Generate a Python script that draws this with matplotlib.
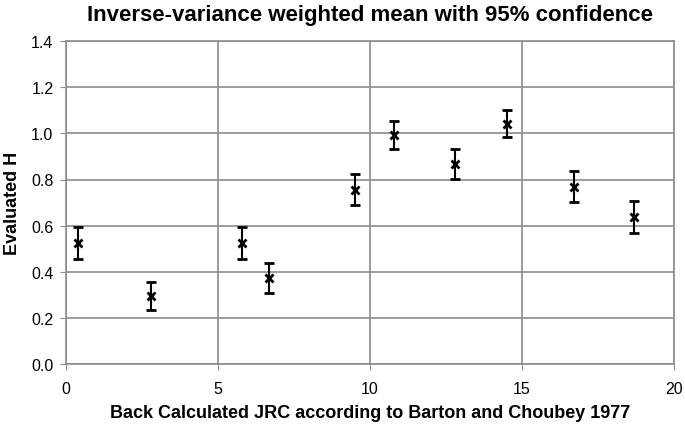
import matplotlib
matplotlib.use('Agg')
import matplotlib.pyplot as plt

plt.rcParams['font.family'] = ['Liberation Sans', 'DejaVu Sans']

jrc = [0.40, 2.81, 5.80, 6.69, 9.51, 10.80, 12.80, 14.50, 16.71, 18.69]
h_mean = [0.525, 0.297, 0.525, 0.374, 0.755, 0.993, 0.868, 1.042, 0.769, 0.639]
h_err = [0.068, 0.060, 0.068, 0.064, 0.067, 0.062, 0.065, 0.060, 0.068, 0.069]

fig = plt.figure(figsize=(6.85, 4.27), dpi=100)
ax = fig.add_axes([66/685, (427-365.3)/427, (674-66)/685, (365.3-41.9)/427])

ax.errorbar(jrc, h_mean, yerr=h_err, fmt='x', color='black', ecolor='black',
            markersize=6, markeredgewidth=2, elinewidth=1.5, capsize=3.8, capthick=1.5)

ax.set_xlim(0, 20)
ax.set_ylim(0, 1.4)
ax.set_xticks([0, 5, 10, 15, 20])
ax.set_yticks([0.0, 0.2, 0.4, 0.6, 0.8, 1.0, 1.2, 1.4])
ax.set_yticklabels(['%.1f' % v for v in ax.get_yticks()])
ax.grid(True, color='#8c8c8c', linewidth=1.2)
ax.set_axisbelow(True)
for s in ax.spines.values():
    s.set_color('#8c8c8c')
    s.set_linewidth(1.2)
ax.tick_params(colors='#8c8c8c', labelcolor='black', labelsize=11.5, length=4)
ax.tick_params(axis='x', pad=8)
ax.tick_params(axis='y', pad=5)

ax.set_title('Inverse-variance weighted mean with 95% confidence',
             fontsize=16, fontweight='bold', pad=15)
ax.set_xlabel('Back Calculated JRC according to Barton and Choubey 1977',
              fontsize=13, fontweight='bold', labelpad=6)
ax.set_ylabel('Evaluated H', fontsize=13, fontweight='bold', labelpad=7)

fig.savefig('out.png', dpi=100)
